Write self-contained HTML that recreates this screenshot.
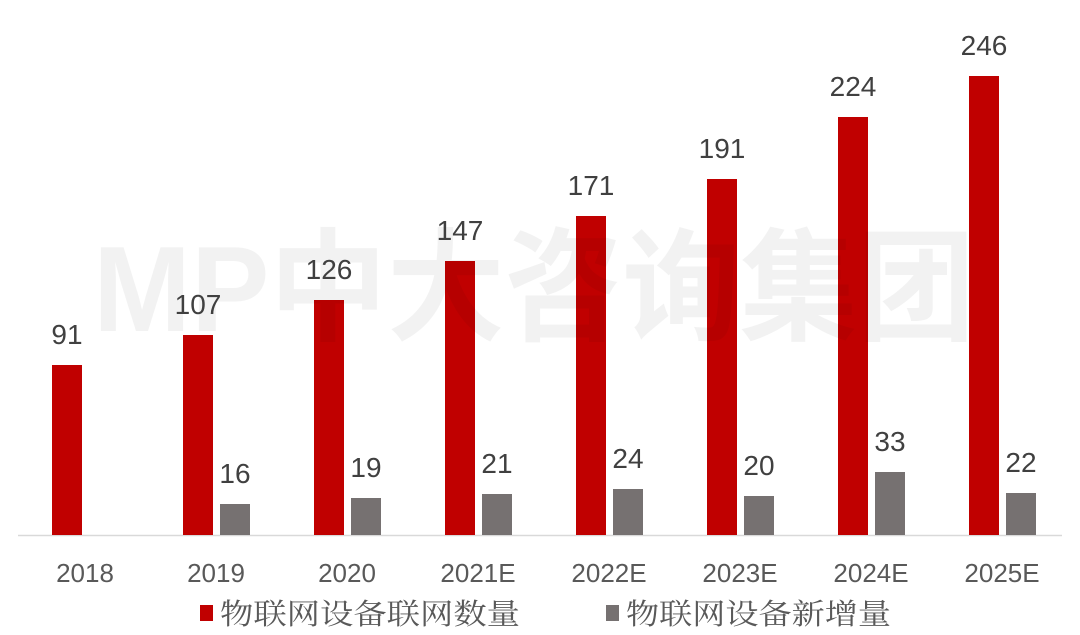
<!DOCTYPE html>
<html><head><meta charset="utf-8"><style>
html,body{margin:0;padding:0;background:#fff;}
svg{display:block;}
</style></head><body>
<svg width="1080" height="635" viewBox="0 0 1080 635" xmlns="http://www.w3.org/2000/svg">
<line x1="18" y1="535.5" x2="1062" y2="535.5" stroke="#d9d9d9" stroke-width="1.5"/>
<g fill="#c00000">
<rect x="52" y="365" width="30" height="170"/>
<rect x="183" y="335" width="30" height="200"/>
<rect x="314" y="300" width="30" height="235"/>
<rect x="445" y="261" width="30" height="274"/>
<rect x="576" y="216" width="30" height="319"/>
<rect x="707" y="179" width="30" height="356"/>
<rect x="838" y="117" width="30" height="418"/>
<rect x="969" y="76" width="30" height="459"/>
</g>
<g fill="#767171">
<rect x="220" y="504" width="30" height="31"/>
<rect x="351" y="498" width="30" height="37"/>
<rect x="482" y="494" width="30" height="41"/>
<rect x="613" y="489" width="30" height="46"/>
<rect x="744" y="496" width="30" height="39"/>
<rect x="875" y="472" width="30" height="63"/>
<rect x="1006" y="493" width="30" height="42"/>
</g>
<text x="93" y="331" font-family="'Liberation Sans','Noto Sans CJK SC',sans-serif" font-weight="bold" font-size="122" fill="#000" fill-opacity="0.05" textLength="882" lengthAdjust="spacingAndGlyphs">MP中大咨询集团</text>
<g font-family="'Liberation Sans',sans-serif" font-size="28" fill="#404040" text-anchor="middle">
<text x="67" y="344">91</text>
<text x="198" y="314">107</text>
<text x="329" y="279">126</text>
<text x="460" y="240">147</text>
<text x="591" y="195">171</text>
<text x="722" y="158">191</text>
<text x="853" y="96">224</text>
<text x="984" y="55">246</text>
<text x="235" y="483">16</text>
<text x="366" y="477">19</text>
<text x="497" y="473">21</text>
<text x="628" y="468">24</text>
<text x="759" y="475">20</text>
<text x="890" y="451">33</text>
<text x="1021" y="472">22</text>
</g>
<g font-family="'Liberation Sans',sans-serif" font-size="26" fill="#595959" text-anchor="middle">
<text x="85" y="582">2018</text>
<text x="216" y="582">2019</text>
<text x="347" y="582">2020</text>
<text x="478" y="582">2021E</text>
<text x="609" y="582">2022E</text>
<text x="740" y="582">2023E</text>
<text x="871" y="582">2024E</text>
<text x="1002" y="582">2025E</text>
</g>
<rect x="200" y="605" width="13" height="16" fill="#c00000"/>
<rect x="606" y="605" width="13" height="16" fill="#767171"/>
<g font-family="'Noto Serif CJK SC',serif" font-size="29" fill="#595959">
<text x="220" y="624" textLength="300" lengthAdjust="spacingAndGlyphs">物联网设备联网数量</text>
<text x="626" y="624" textLength="265" lengthAdjust="spacingAndGlyphs">物联网设备新增量</text>
</g>
</svg>
</body></html>
